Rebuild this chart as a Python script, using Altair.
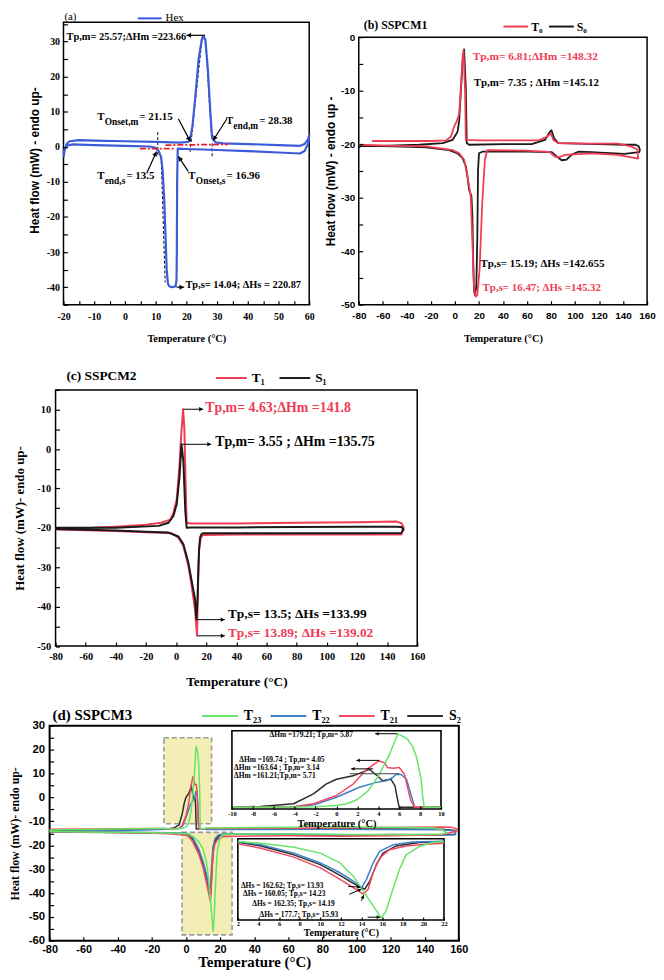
import math
import altair as alt
import pandas as pd

W, H = 654, 964
SERIF = "Liberation Serif"
SANS = "Liberation Sans"

BLUE_A = "#3b5bdb"
RED = "#f03c55"
BLACK = "#1a1a1a"
GREEN_D = "#66e466"
BLUE_D = "#3d7fc6"
RED_D = "#f04a63"
BLACK_D = "#2d2d2d"

# ================= (a) Hex =================
hex_x = [-20, -19.6, -19, -18, -15, -10, 0, 10, 18, 20.5, 21.2, 22, 23, 24, 25, 25.6, 26.2, 27, 27.8, 28.4,
         29.5, 32, 40, 50, 57, 58.5, 59.5, 60,
         59.7, 58.5, 57, 50, 40, 30, 20, 17.2, 17.0, 16.9, 16.8, 16.5, 15.5, 14.5, 14.0, 13.6, 13.2, 12.8,
         12.3, 11.8, 11.0, 10.0, 8, 0, -10, -17, -19, -19.7, -20]
hex_y = [-3, -1, 0.8, 1.6, 1.9, 1.8, 1.6, 1.4, 1.2, 1.4, 2.0, 6, 15, 25, 30.5, 31.5, 30.5, 22, 10, 2.5,
         1.3, 1.0, 0.8, 0.5, 0.3, 0.8, 2.0, 3.2,
         1.0, -1.2, -1.9, -1.6, -1.2, -0.9, -0.6, -0.5, -10, -30, -38, -39.7, -40, -39.8, -39, -35, -25, -15,
         -7, -3, -1.2, -0.3, 0.1, 0.3, 0.5, 0.7, 0.3, -0.8, -2]

# ================= (b) SSPCM1 =================
b_T0_x = [-69, -40, -20, -7.4, -3.3, -0.6, 1.4, 3.6, 5.0, 6.4, 7.2, 8.5, 9.1, 20, 50, 69.5, 76.5, 80, 82, 86,
          110, 135.5, 146.5, 152, 152.5, 135.5, 113.6, 91.5, 87.4, 83.3, 79.2, 75, 58.6, 27, 25, 22.8, 20.6,
          18.7, 17.3, 16, 14.6, 13.2, 10.5, 7.7, 3.6, -1.9, -23.9, -50, -79]
b_T0_y = [-19.4, -19.4, -19.4, -19.3, -18.6, -16.7, -15.8, -14.3, -9.3, -3.8, -2.5, -10, -19.2, -19.3, -19.3,
          -19.3, -18.6, -18.0, -19.2, -19.8, -19.9, -19.9, -20.4, -21.0, -22.7, -22.0, -21.7, -22.0, -22.4,
          -22.3, -21.5, -21.4, -21.2, -21.1, -22.9, -30.9, -43.3, -48.2, -48.5, -47, -38.3, -29.7, -26, -22.9,
          -21.7, -21.1, -20.4, -20.3, -20.1]
b_S0_x = [-80, -78, -60, -30, -10, -1.9, 2.2, 3.6, 5.0, 6.9, 7.7, 9.1, 9.9, 11.8, 40, 64, 75, 79, 80.4, 82.6,
          86, 120, 141, 150.5, 153, 154, 153.5, 141, 113.6, 102.6, 97, 93, 88.9, 84.8, 80.7, 58.6, 22.8, 20.1,
          19.3, 18.7, 17.9, 16.8, 16.0, 15.4, 14.6, 13.8, 11.8, 10.5, 9.1, 6.4, 2.2, -4.7, -23.9, -50, -79]
b_S0_y = [-20.6, -20.3, -20.3, -20.1, -19.8, -19.2, -17.7, -15.6, -10.0, -3.3, -2.3, -9.3, -19.8, -20.1, -20.0,
          -20.0, -19.2, -17.7, -17.4, -18.9, -19.8, -20.0, -20.1, -20.1, -20.4, -21.0, -21.5, -21.8, -21.5,
          -21.4, -22.0, -22.9, -23.0, -22.3, -21.5, -21.4, -21.4, -21.7, -24.8, -37.2, -46.4, -48.2, -47.5,
          -43.3, -33.4, -29.7, -28.5, -26.0, -24.1, -22.6, -21.7, -21.1, -20.6, -20.4, -20.3]

# ================= (c) SSPCM2 =================
c_T1_x = [-80, -56, -40, -20, -10, -3.9, -1.8, 0.4, 2.2, 3.3, 4.63, 5.5, 6.3, 7.0, 10, 40, 80, 120, 146, 149.5,
          151, 150, 149.5, 120, 80, 40, 18, 16.4, 15.3, 14.7, 13.9, 12.5, 10.3, 8.1, 4.8, 1.5, -2.9, -20, -40,
          -60, -79.6]
c_T1_y = [-20.2, -20.0, -19.7, -19.2, -18.7, -17.9, -16.2, -12.8, -4.4, 3.1, 10.1, 5.0, -8.6, -18.7, -18.9,
          -18.9, -18.7, -18.6, -18.4, -18.8, -19.9, -20.8, -21.7, -21.7, -21.7, -21.7, -21.8, -22.5, -25.4,
          -32.2, -47.4, -40.6, -34.7, -29.6, -24.6, -22.5, -21.4, -21.1, -20.8, -20.6, -20.4]
c_S1_x = [-80, -40, -11.6, -5, -1.8, 0.4, 2.2, 3.3, 3.55, 4.8, 6.1, 7.0, 10, 40, 80, 120, 146, 149.5, 151, 150,
          149.5, 120, 80, 40, 18, 17, 16, 15.3, 14.8, 14.2, 13.5, 12.5, 10.3, 8.1, 4.8, 1.5, -5, -20, -40, -80]
c_S1_y = [-20.0, -20.0, -19.5, -18.7, -17.0, -14.0, -7.2, -0.5, 1.3, -3.0, -15.7, -20.0, -19.9, -19.9, -19.8,
          -19.7, -19.7, -19.8, -20.4, -21.0, -21.3, -21.4, -21.4, -21.4, -21.4, -21.5, -22.3, -25, -30, -38,
          -43.3, -38, -33.4, -28.8, -24.1, -22.2, -21.2, -21.0, -20.7, -20.3]

# ================= (d) SSPCM3 =================
d_melt = {
    "T23": ([-10, -6, -4, -2, 0, 1, 2, 3, 4, 5, 5.87, 6.3, 6.8, 7.3, 7.6, 7.9, 8.1, 8.25, 8.4, 10],
            [-13.2, -13.1, -13.0, -12.9, -12.3, -11.5, -9.5, -5.5, 1.5, 11.0, 21.5, 20.5, 19.0, 15.5, 11.5,
             5.0, 0.0, -8.0, -13.2, -13.2]),
    "T22": ([-10, -4.1, -2, 0, 2.2, 3.8, 4.8, 5.4, 5.71, 6.2, 6.7, 7.1, 7.5, 10],
            [-13.2, -13.0, -11.8, -8.4, -3.7, -1.4, -0.6, 0.9, 2.5, 2.3, 0.1, -6.8, -13.2, -13.2]),
    "T21": ([-10, -4.1, -2.2, 0, 1.6, 2.9, 4.05, 4.6, 4.9, 5.4, 6.0, 6.5, 6.8, 7.1, 7.5, 10],
            [-13.2, -12.9, -11.5, -7.6, -2.2, 4.8, 8.7, 7.9, 5.6, 5.3, 5.6, 2.5, -3.7, -9.9, -13.2, -13.2]),
    "S2": ([-10, -7.3, -4.1, -2.2, -1, 0, 1.6, 2.9, 3.14, 4.1, 4.4, 4.9, 5.2, 5.6, 5.8, 6.0, 10],
           [-13.1, -12.8, -11.5, -6.8, -2.2, 0.1, 1.7, 4.3, 4.8, 0.9, -0.6, -0.1, 0.1, -3.0, -8.4, -13.2, -13.2]),
}
d_solid = {
    "T23": ([2, 4.24, 7.44, 10, 11.92, 13.2, 14.48, 15.44, 15.92, 16.4, 17.04, 17.68, 18.32, 19.6, 20.88, 22],
            [-15.5, -16.4, -18.5, -21.6, -26.8, -33.8, -44.2, -52.0, -56.0, -52.0, -40.7, -30.3, -22.5, -18.1,
             -16.0, -15.5]),
    "T22": ([2, 4.24, 7.44, 10, 11.92, 13.2, 14.0, 14.48, 15.12, 15.76, 17.04, 18.96, 22],
            [-15.5, -17.2, -21.6, -26.8, -32.0, -36.4, -39.8, -35.5, -26.8, -20.7, -17.2, -15.7, -15.3]),
    "T21": ([2, 4.24, 7.44, 10, 11.92, 13.2, 14.19, 14.64, 15.12, 15.76, 16.72, 18.32, 20.24, 22],
            [-16.7, -19.0, -23.7, -29.4, -35.5, -39.8, -43.3, -40.7, -32.0, -24.2, -19.8, -17.8, -16.9, -16.4]),
    "S2": ([2, 4.24, 7.44, 10, 11.92, 13.2, 14.32, 14.8, 15.44, 16.08, 17.36, 19.6, 22],
           [-15.8, -17.8, -22.5, -27.7, -33.4, -37.6, -40.7, -36.4, -27.7, -21.6, -17.8, -16.0, -15.5]),
}
d_heat_left = {
    "T23": ([-80, -60, -40, -20, -12], [-13.6, -13.4, -13.2, -13.0, -13.0]),
    "T22": ([-80, -60, -40, -20, -12], [-14.3, -14.0, -13.8, -13.5, -13.3]),
    "T21": ([-80, -60, -40, -20, -12], [-13.3, -13.2, -13.1, -13.0, -13.0]),
    "S2": ([-80, -60, -40, -20, -12], [-13.8, -13.6, -13.4, -13.3, -13.2]),
}
d_heat_right = {
    "T23": ([12, 40, 65, 72, 78, 100, 120, 145, 150, 153],
            [-12.8, -12.6, -12.5, -11.3, -12.3, -12.4, -12.5, -12.8, -13.5, -14.8]),
    "T22": ([12, 40, 80, 120, 150, 158], [-13.4, -13.4, -13.3, -13.4, -13.5, -14.0]),
    "T21": ([12, 40, 80, 120, 150, 156, 159], [-13.0, -12.9, -12.8, -12.6, -12.4, -12.5, -13.2]),
    "S2": ([12, 40, 80, 120, 150, 158], [-13.2, -13.2, -13.1, -13.2, -13.3, -13.8]),
}
d_cool_right = {
    "T23": ([150, 130, 100, 70, 40, 25], [-15.3, -15.6, -15.5, -15.3, -15.3, -15.4]),
    "T22": ([158, 150, 120, 90, 60, 30, 24], [-15.6, -15.8, -15.6, -15.9, -15.5, -15.4, -15.3]),
    "T21": ([159, 150, 120, 90, 60, 30, 24], [-14.0, -15.6, -16.0, -16.2, -16.0, -16.2, -16.3]),
    "S2": ([158, 150, 120, 90, 60, 30, 24], [-15.4, -15.6, -15.5, -15.8, -15.4, -15.4, -15.5]),
}
d_cool_left = {
    "T23": ([0, -10, -30, -60, -80], [-15.2, -14.9, -14.7, -14.4, -14.2]),
    "T22": ([0, -10, -30, -60, -80], [-15.0, -14.8, -14.6, -14.5, -14.4]),
    "T21": ([0, -10, -30, -60, -80], [-15.8, -15.2, -14.8, -14.5, -14.3]),
    "S2": ([0, -10, -30, -60, -80], [-15.3, -15.0, -14.8, -14.6, -14.5]),
}
d_label = {"T23": "T₂₃", "T22": "T₂₂", "T21": "T₂₁", "S2": "S₂"}
d_color = {"T23": GREEN_D, "T22": BLUE_D, "T21": RED_D, "S2": BLACK_D}
d_draw_order = ["S2", "T22", "T21", "T23"]
d_legend_order = ["T23", "T22", "T21", "S2"]
d_boxes = [(-13, 15, -11, 25), (-2.3, 27, -57.5, -14.6)]

# ================= geometry of each plotting frame (px inside the chart) =================
PA = dict(xd=(-20, 60), xr=(56, 304), yd=(-45, 35.5), yr=(295, 10))
PB = dict(xd=(-80, 160), xr=(354, 645), yd=(-50, 0), yr=(295, 25))
PC = dict(xd=(-80, 160), xr=(48, 413), yd=(-50, 15), yr=(639.5, 381))
PD = dict(xd=(-80, 160), xr=(42, 455), yd=(-60, 30), yr=(937, 720))
PU = dict(xd=(-10, 10), xr=(226, 437), yd=(-14, 23), yr=(804, 725), noy=True)
PL = dict(xd=(2, 22), xr=(232, 440), yd=(-57, -14), yr=(916, 834), noy=True)


def scale(p, k):
    return alt.Scale(domain=list(p[k + "d"]), range=list(p[k + "r"]), zero=False, nice=False)


def X(p, f="x", axis=alt.Undefined):
    return alt.X(f + ":Q", scale=scale(p, "x"), axis=axis)


def Y(p, f="y", axis=alt.Undefined):
    if p.get("noy"):
        axis = None
    return alt.Y(f + ":Q", scale=scale(p, "y"), axis=axis)


def to_px(p, x, y):
    (a, b), (r0, r1) = p["xd"], p["xr"]
    (c, d), (s0, s1) = p["yd"], p["yr"]
    return r0 + (x - a) / (b - a) * (r1 - r0), s0 + (y - c) / (d - c) * (s1 - s0)


def from_px(p, X_, Y_):
    (a, b), (r0, r1) = p["xd"], p["xr"]
    (c, d), (s0, s1) = p["yd"], p["yr"]
    return a + (X_ - r0) / (r1 - r0) * (b - a), c + (Y_ - s0) / (s1 - s0) * (d - c)


def seq(lo, hi, step):
    out, v = [], math.ceil(lo / step - 1e-9) * step
    while v <= hi + 1e-9:
        out.append(int(round(v)) if abs(v - round(v)) < 1e-9 else v)
        v += step
    return out


def x_axis(p, step, lab, lfont, lsize, lpad, title, tfont, tsize, tcy, tick=4):
    pos = p["yr"][0] - tick
    return alt.Axis(orient="bottom", offset=pos - H, values=seq(p["xd"][0], p["xd"][1], step),
                    labelExpr=f"datum.value % {lab} === 0 ? toString(datum.value) : ''",
                    domain=False, grid=False, ticks=True, tickSize=tick, tickWidth=1.2, tickColor="black",
                    labelFont=lfont, labelFontSize=lsize, labelFontWeight="bold", labelColor="black",
                    labelPadding=lpad, labelFlush=False, labelOverlap=False, zindex=1,
                    title=title, titleFont=tfont, titleFontSize=tsize, titleFontWeight="bold",
                    titleColor="black", titleX=(p["xr"][0] + p["xr"][1]) / 2, titleY=tcy - pos,
                    titleBaseline="middle", titleAlign="center")


def y_axis(p, step, lab, lfont, lsize, lpad, title, tfont, tsize, tcx, tcy=None, tick=4):
    pos = p["xr"][0] + tick
    if tcy is None:
        tcy = (p["yr"][0] + p["yr"][1]) / 2
    return alt.Axis(orient="left", offset=-pos, values=seq(p["yd"][0], p["yd"][1], step),
                    labelExpr=f"datum.value % {lab} === 0 ? toString(datum.value) : ''",
                    domain=False, grid=False, ticks=True, tickSize=tick, tickWidth=1.2, tickColor="black",
                    labelFont=lfont, labelFontSize=lsize, labelFontWeight="bold", labelColor="black",
                    labelPadding=lpad, labelOverlap=False, labelFlush=False, zindex=1,
                    title=title, titleFont=tfont, titleFontSize=tsize, titleFontWeight="bold",
                    titleColor="black", titleX=tcx - pos, titleY=tcy, titleAngle=270,
                    titleBaseline="middle", titleAlign="center")


def frame(p, xa=alt.Undefined, ya=alt.Undefined, sw=1.5, fill=None):
    df = pd.DataFrame({"x": [p["xd"][0]], "x2": [p["xd"][1]], "y": [p["yd"][0]], "y2": [p["yd"][1]]})
    mk = dict(stroke="black", strokeWidth=sw)
    if fill:
        mk.update(fill=fill, fillOpacity=1)
    else:
        mk.update(fill="white", fillOpacity=0)
    return alt.Chart(df).mark_rect(**mk).encode(x=X(p, "x", xa), x2=alt.X2("x2"),
                                                 y=Y(p, "y", ya), y2=alt.Y2("y2"))


def lines(p, series, dom, rng, legend, sw):
    rows = []
    for name, xs, ys in series:
        assert len(xs) == len(ys), name
        rows += [{"s": name, "x": x, "y": y, "i": i} for i, (x, y) in enumerate(zip(xs, ys))]
    return alt.Chart(pd.DataFrame(rows)).mark_line(strokeWidth=sw, strokeJoin="round").encode(
        x=X(p), y=Y(p),
        color=alt.Color("s:N", scale=alt.Scale(domain=dom, range=rng), legend=legend),
        order="i:Q")


def legend(x, cy, font, size, sym, weight="bold", pad=4, off=3):
    return alt.Legend(orient="none", legendX=x, legendY=cy - sym / 2.0, direction="horizontal", title=None,
                      symbolType="stroke", symbolSize=sym * sym, symbolStrokeWidth=2,
                      labelFont=font, labelFontSize=size, labelFontWeight=weight, labelColor="black",
                      columnPadding=pad, labelOffset=off, padding=0)


def text(p, items, font=SERIF, size=11, color="black", weight="bold", align="left"):
    df = pd.DataFrame(items, columns=["x", "y", "t"])
    return alt.Chart(df).mark_text(font=font, fontSize=size, color=color, fontWeight=weight,
                                   align=align, baseline="middle").encode(x=X(p), y=Y(p), text="t:N")


def segs(p, items, color="black", sw=1.0, dash=None):
    df = pd.DataFrame(items, columns=["x", "y", "x2", "y2"])
    mk = dict(color=color, strokeWidth=sw)
    if dash:
        mk["strokeDash"] = dash
    return alt.Chart(df).mark_rule(**mk).encode(x=X(p), y=Y(p), x2=alt.X2("x2"), y2=alt.Y2("y2"))


def arrows(p, items, color="black", sw=1.0, head=24):
    heads = []
    for (x1, y1, x2, y2) in items:
        X1, Y1 = to_px(p, x1, y1)
        X2, Y2 = to_px(p, x2, y2)
        dx, dy = X2 - X1, Y2 - Y1
        L = math.hypot(dx, dy) or 1.0
        back = math.sqrt(head) / 2.0
        hx, hy = from_px(p, X2 - dx / L * back, Y2 - dy / L * back)
        heads.append({"x": hx, "y": hy, "a": math.degrees(math.atan2(dx, -dy)) % 360})
    hd = alt.Chart(pd.DataFrame(heads)).mark_point(shape="triangle-up", filled=True, size=head, color=color,
                                                   opacity=1, strokeWidth=0).encode(
        x=X(p), y=Y(p), angle=alt.Angle("a:Q", scale=None))
    return [segs(p, items, color, sw), hd]


# ================= panel (a) =================
pa = alt.layer(
    frame(PA, x_axis(PA, 5, 10, SERIF, 10, 7, "Temperature (°C)", SERIF, 10.5, 329),
          y_axis(PA, 5, 10, SERIF, 10, 4, "Heat flow (mW) - endo up-", SANS, 12, 27, 149)),
    segs(PA, [(10.7, 4.2, 10.7, -2.8), (21.2, -1.4, 25.2, 31.5), (28.2, 2.8, 26.2, 31.0),
              (28.4, 1.0, 28.4, -2.7), (11.8, -2.8, 13.1, -38.6)], "black", 1.0, [3, 2]),
    lines(PA, [("Hex", hex_x, hex_y)], ["Hex"], [BLUE_A], legend(130, 5, SERIF, 11, 24, "normal"), 2.2),
    segs(PA, [(4.9, -0.5, 16.4, -0.5), (13.2, 0.5, 33.5, 0.7)], "#e8202a", 1.8, [6, 2, 2, 2]),
    text(PA, [(-19.7, 36.9, "(a)")], SERIF, 11, weight="normal"),
    text(PA, [(-19.0, 31.4, "Tp,m= 25.57;ΔHm =223.66"), (19.7, -39.5, "Tp,s= 14.04; ΔHs = 220.87")], SERIF, 10.5),
    text(PA, [(-9.0, 8.5, "T"), (4.7, 8.5, "= 21.15"), (32.9, 7.4, "T"), (43.7, 7.4, "= 28.38"),
              (-9.0, -8.4, "T"), (0.5, -8.4, "= 13.5"), (20.6, -8.4, "T"), (33.1, -8.4, "= 16.96")], SERIF, 11),
    text(PA, [(-6.6, 7.1, "Onset,m"), (35.3, 6.0, "end,m"), (-6.6, -9.8, "end,s"), (23.1, -9.8, "Onset,s")],
         SERIF, 9.5),
    *arrows(PA, [(26.1, 31.8, 20.0, 31.8), (17.4, 8.0, 21.3, 1.5), (33.2, 8.0, 28.7, 1.8),
                 (7.1, -7.5, 10.3, -1.3), (20.6, -7.0, 17.4, -2.7), (16.8, -40.0, 19.3, -40.0)],
            "black", 1.2, 26),
)

# ================= panel (b) =================
pb = alt.layer(
    frame(PB, x_axis(PB, 10, 20, SANS, 10, 6, "Temperature (°C)", SERIF, 10.5, 329),
          y_axis(PB, 5, 10, SANS, 10, 4, "Heat flow (mW) - endo up -", SANS, 12, 326)),
    lines(PB, [("S₀", b_S0_x, b_S0_y), ("T₀", b_T0_x, b_T0_y)], ["T₀", "S₀"], [RED, BLACK],
          legend(499, 13, SERIF, 12, 25, pad=2, off=2), 1.8),
    text(PB, [(-75.9, 2.2, "(b)  SSPCM1")], SERIF, 12),
    text(PB, [(14.8, -3.7, "Tp,m= 6.81;ΔHm =148.32")], SERIF, 11.5, RED),
    text(PB, [(15.7, -8.5, "Tp,m= 7.35 ; ΔHm =145.12"), (21.4, -42.4, "Tp,s= 15.19; ΔHs =142.655")], SERIF, 11),
    text(PB, [(23.1, -46.9, "Tp,s= 16.47; ΔHs =145.32")], SERIF, 11, RED),
)

# ================= panel (c) =================
pc = alt.layer(
    frame(PC, x_axis(PC, 10, 20, SERIF, 10.5, 6, "Temperature (°C)", SERIF, 13.5, 675),
          y_axis(PC, 5, 10, SERIF, 10.5, 5, "Heat flow (mW)- endo up-", SERIF, 13, 12)),
    lines(PC, [("T₁", c_T1_x, c_T1_y), ("S₁", c_S1_x, c_S1_y)], ["T₁", "S₁"], [RED, BLACK],
          legend(209, 368, SERIF, 13.5, 31, pad=10, off=4), 2.0),
    text(PC, [(-72.8, 18.4, "(c) SSPCM2")], SERIF, 13.5),
    *arrows(PC, [(4.8, 10.1, 18.0, 10.1), (4.4, 1.2, 23.4, 1.2), (14.0, -43.3, 32.4, -43.3),
                 (14.2, -47.4, 32.4, -47.4)], "black", 1.0, 20),
    text(PC, [(19.3, 10.4, "Tp,m= 4.63;ΔHm =141.8")], SERIF, 14, RED),
    text(PC, [(25.9, 1.8, "Tp,m= 3.55 ; ΔHm =135.75")], SERIF, 14),
    text(PC, [(34.4, -42.0, "Tp,s= 13.5; ΔHs =133.99")], SERIF, 13.5),
    text(PC, [(34.4, -46.6, "Tp,s= 13.89; ΔHs =139.02")], SERIF, 13.5, RED),
)

# ================= panel (d) main =================
d_series = []
for k in d_draw_order:
    xs = (d_heat_left[k][0] + d_melt[k][0] + d_heat_right[k][0] + d_cool_right[k][0]
          + d_solid[k][0][::-1] + d_cool_left[k][0])
    ys = (d_heat_left[k][1] + d_melt[k][1] + d_heat_right[k][1] + d_cool_right[k][1]
          + d_solid[k][1][::-1] + d_cool_left[k][1])
    d_series.append((d_label[k], xs, ys))
d_dom = [d_label[k] for k in d_legend_order]
d_rng = [d_color[k] for k in d_legend_order]

box_df = pd.DataFrame(d_boxes, columns=["x", "x2", "y", "y2"])
pd_main = alt.layer(
    frame(PD, x_axis(PD, 10, 20, SANS, 11, 3, "Temperature (°C)", SERIF, 15, 958),
          y_axis(PD, 5, 10, SANS, 11.5, 5, "Heat flow (mW)- endo up-", SERIF, 12, 7), sw=2),
    alt.Chart(box_df).mark_rect(fill="#f3eeb5", stroke="#9a9a9a", strokeWidth=1.6, strokeDash=[5, 3]).encode(
        x=X(PD), x2=alt.X2("x2"), y=Y(PD), y2=alt.Y2("y2")),
    lines(PD, d_series, d_dom, d_rng, legend(195, 709, SERIF, 14, 36, pad=5, off=5), 1.5),
    text(PD, [(-78.3, 34.6, "(d) SSPCM3")], SERIF, 15),
)

# ================= panel (d) upper inset =================
pu = alt.layer(
    frame(PU, x_axis(PU, 2, 2, SERIF, 6.5, 1.5, "Temperature (°C)", SERIF, 10.5, 818.5, tick=3),
          None, 1.6, "white"),
    lines(PU, [(d_label[k],) + d_melt[k] for k in d_draw_order], d_dom, d_rng, None, 1.5),
    segs(PU, [(1.3, 2.7, 6.0, 2.7)], "#444444", 1.0),
    *arrows(PU, [(5.8, 21.6, 3.7, 21.6), (4.1, 9.0, 1.9, 9.0), (3.5, 5.0, 1.4, 5.0)], "black", 1.0, 14),
    text(PU, [(-6.4, 20.9, "ΔHm =179.21; Tp,m= 5.87"), (-9.3, 9.2, "ΔHm =169.74 ; Tp,m= 4.05"),
              (-9.8, 5.3, "ΔHm =163.64 ; Tp,m= 3.14"), (-9.8, 1.6, "ΔHm =161.21;Tp,m= 5.71")], SERIF, 7.5),
)

# ================= panel (d) lower inset =================
pl = alt.layer(
    frame(PL, x_axis(PL, 2, 2, SERIF, 6.5, 0.5, "Temperature (°C)", SERIF, 10, 928.5, tick=3),
          None, 1.6, "white"),
    lines(PL, [(d_label[k],) + d_solid[k] for k in d_draw_order], d_dom, d_rng, None, 1.5),
    *arrows(PL, [(12.7, -39.2, 13.9, -39.6), (12.8, -43.4, 14.0, -40.6), (14.0, -46.8, 14.2, -43.8),
                 (14.6, -55.5, 15.8, -55.5)], "black", 1.0, 14),
    text(PL, [(2.3, -38.8, "ΔHs = 162.62; Tp,s= 13.93"), (2.5, -43.4, "ΔHs = 160.05; Tp,s= 14.23"),
              (3.4, -48.7, "ΔHs = 162.35; Tp,s= 14.19"), (4.1, -54.6, "ΔHs = 177.7; Tp,s= 15.93")], SERIF, 7.5),
)

chart = alt.layer(pa, pb, pc, pd_main, pu, pl).resolve_scale(
    x="independent", y="independent", color="independent"
).properties(
    width=W, height=H, autosize=alt.AutoSizeParams(type="none"), padding=0
).configure_view(strokeWidth=0)

chart.save("out.html", embed_options={"renderer": "svg", "actions": False})
